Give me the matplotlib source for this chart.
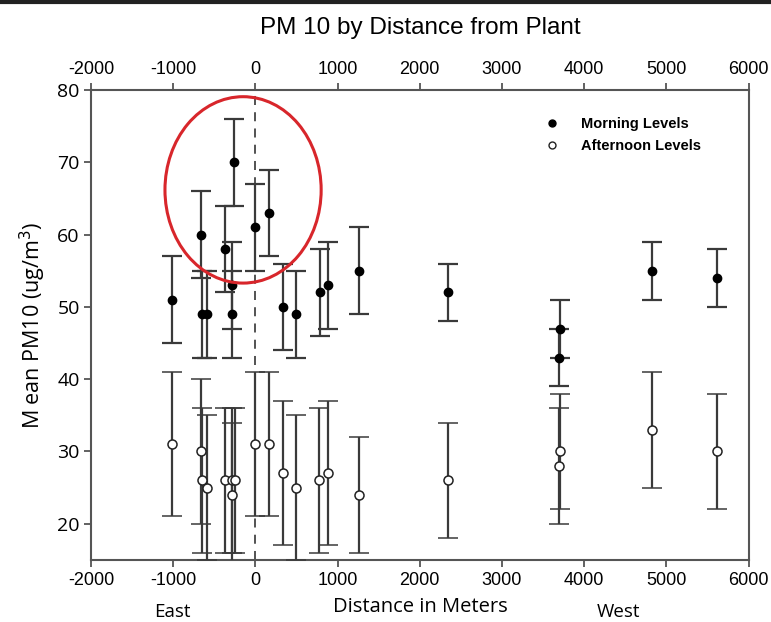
import numpy as np
import matplotlib
matplotlib.use("Agg")
from matplotlib import pyplot as plt
from matplotlib.patches import Ellipse
from matplotlib.lines import Line2D

# distances from the plant (m), negative = east
morning_dist = [-1010, -665, -645, -590, -375, -260, -290, -280, 0, 170,
                330, 500, 780, 880, 1260, 2340, 3700, 3690, 4820, 5620]
morning_pm = [51, 60, 49, 49, 58, 70, 53, 49, 61, 63,
              50, 49, 52, 53, 55, 52, 47, 43, 55, 54]
morning_err = [6, 6, 6, 6, 6, 6, 6, 6, 6, 6,
               6, 6, 6, 6, 6, 4, 4, 4, 4, 4]

afternoon_dist = [-1010, -665, -645, -590, -375, -285, -285, -250, 0, 170,
                  330, 500, 775, 880, 1260, 2340, 3710, 3690, 4820, 5620]
afternoon_pm = [31, 30, 26, 25, 26, 26, 24, 26, 31, 31,
                27, 25, 26, 27, 24, 26, 30, 28, 33, 30]
afternoon_err = [10, 10, 10, 10, 10, 10, 10, 10, 10, 10,
                 10, 10, 10, 10, 8, 8, 8, 8, 8, 8]

x_ticks = [-2000, -1000, 0, 1000, 2000, 3000, 4000, 5000, 6000]
y_ticks = [20, 30, 40, 50, 60, 70, 80]

fig = plt.figure(figsize=(7.71, 6.22), dpi=100)
ax = fig.add_axes([0.118, 0.1, 0.853, 0.755])

bar_col = '#3a3a3a'
# morning levels
ax.errorbar(morning_dist, morning_pm, yerr=morning_err, fmt='o', color='black',
            ecolor=bar_col, elinewidth=1.6, capsize=7, capthick=1.6,
            markersize=6, zorder=3)
# afternoon levels
ax.errorbar(afternoon_dist, afternoon_pm, yerr=afternoon_err, fmt='o', color='black',
            mfc='white', mec='#222222', mew=1.1, ecolor=bar_col, elinewidth=1.6,
            capsize=7, capthick=1.6, markersize=6.5, zorder=3)

# plant location
ax.axvline(0, color='#444444', lw=1.3, ls=(0, (5, 4)), zorder=1)

# highlight circle
ax.add_patch(Ellipse((-150, 66.2), 1900, 25.8, fill=False, ec='#d8262b', lw=2.2, zorder=4))

ax.set_xlim(-2000, 6000)
ax.set_ylim(15, 80)
ax.set_xticks(x_ticks)
ax.set_yticks(y_ticks)
ax.set_xticklabels([str(v) for v in x_ticks], family='Liberation Sans', fontsize=13)
ax.set_yticklabels([str(v) for v in y_ticks], family='Open Sans', fontsize=14)
ax.tick_params(direction='out', length=5, width=1.3, color='#555555',
               top=True, labeltop=True, pad=4)
ax.tick_params(axis='y', pad=3)

for s in ax.spines.values():
    s.set_color('#555555')
    s.set_linewidth(1.5)

ax.set_ylabel('M ean PM10 (ug/m$^3$)', family='Open Sans', fontsize=15.5, labelpad=7)
fig.text(0.545, 0.024, 'Distance in Meters', family='Open Sans', fontsize=14.5,
         ha='center', va='center')
fig.text(0.223, 0.016, 'East', family='Open Sans', fontsize=13.5, ha='center', va='center')
fig.text(0.802, 0.016, 'West', family='Open Sans', fontsize=13.5, ha='center', va='center')
fig.text(0.545, 0.955, 'PM 10 by Distance from Plant', family='Liberation Sans',
         fontsize=17.5, ha='center', va='center')

handles = [Line2D([], [], ls='none', marker='o', color='black', markersize=5),
           Line2D([], [], ls='none', marker='o', mfc='white', mec='#222222',
                  mew=1.0, markersize=5)]
ax.legend(handles, ['Morning Levels', 'Afternoon Levels'], loc='upper left',
          bbox_to_anchor=(0.67, 0.955), frameon=False, handletextpad=1.0,
          borderaxespad=0, labelspacing=0.55,
          prop={'family': 'Liberation Sans', 'weight': 'bold', 'size': 10.5})

# dark frame line along the top of the screenshot
fig.add_artist(Line2D([0, 1], [0.997, 0.997], transform=fig.transFigure,
                      color='#222222', lw=3))

fig.savefig('out.png', dpi=100)
